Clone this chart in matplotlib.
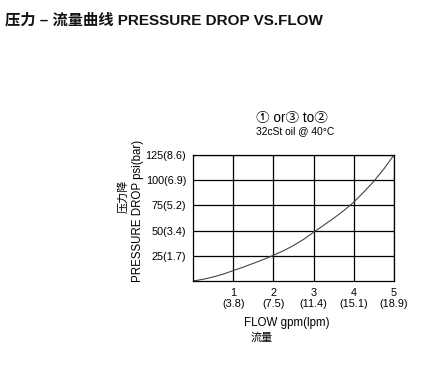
import matplotlib
matplotlib.use("Agg")
import matplotlib.pyplot as plt

# 读图估计的数据
flow_gpm = [0, 0.25, 0.5, 0.75, 1, 1.25, 1.5, 1.75, 2, 2.25, 2.5,
            2.75, 3, 3.25, 3.5, 3.75, 4, 4.25, 4.5, 4.75, 5]
dp_psi = [0, 1.7, 4, 6.8, 10.3, 13.8, 17.5, 21.3, 25.5, 30, 35.2,
          41.3, 48.3, 55.3, 62.3, 69.8, 78.3, 88.3, 99, 111.3, 125]

x_ticks = [1, 2, 3, 4, 5]
x_lpm = ["3.8", "7.5", "11.4", "15.1", "18.9"]
y_ticks = [25, 50, 75, 100, 125]
y_bar = ["1.7", "3.4", "5.2", "6.9", "8.6"]

fam = ["Liberation Sans", "Noto Sans CJK SC", "DejaVu Sans"]
plt.rcParams["font.family"] = fam

fig = plt.figure(figsize=(4.37, 3.83), dpi=100)
ax = fig.add_axes([193 / 437, 1 - 281 / 383, 201 / 437, 126 / 383])

ax.plot(flow_gpm, dp_psi, color="#444444", lw=0.8)
ax.set_xlim(0, 5)
ax.set_ylim(0, 125)
ax.set_xticks(x_ticks)
ax.set_yticks(y_ticks)
ax.set_xticklabels([f"{t}\n({l})" for t, l in zip(x_ticks, x_lpm)], fontsize=7.8, linespacing=1.1)
ax.set_yticklabels([f"{t}({b})" for t, b in zip(y_ticks, y_bar)], fontsize=7.8)
ax.tick_params(length=0, pad=5)
ax.grid(True, color="black", lw=0.9)
for s in ax.spines.values():
    s.set_color("black")
    s.set_linewidth(0.9)

# 标题
fig.text(5 / 437, 1 - 20 / 383, "压力 – 流量曲线 PRESSURE DROP VS.FLOW",
         fontsize=11, fontweight="bold", va="center", ha="left", color="#111111")

# 工况说明
fig.text(292 / 437, 1 - 118 / 383, "① or③ to②", fontsize=9.8, ha="center", va="center")
fig.text(295 / 437, 1 - 131 / 383, "32cSt oil @ 40°C", fontsize=7.4, ha="center", va="center")

# 坐标轴标题
fig.text(287 / 437, 1 - 323 / 383, "FLOW gpm(lpm)", fontsize=8.3, ha="center", va="center")
fig.text(262 / 437, 1 - 338 / 383, "流量", fontsize=8, ha="center", va="center")
fig.text(138 / 437, 1 - 211 / 383, "PRESSURE DROP psi(bar)", fontsize=8.3, ha="center", va="center",
         rotation=90)
fig.text(123 / 437, 1 - 196 / 383, "压力降", fontsize=8, ha="center", va="center", rotation=90)

fig.savefig("out.png", dpi=100)
